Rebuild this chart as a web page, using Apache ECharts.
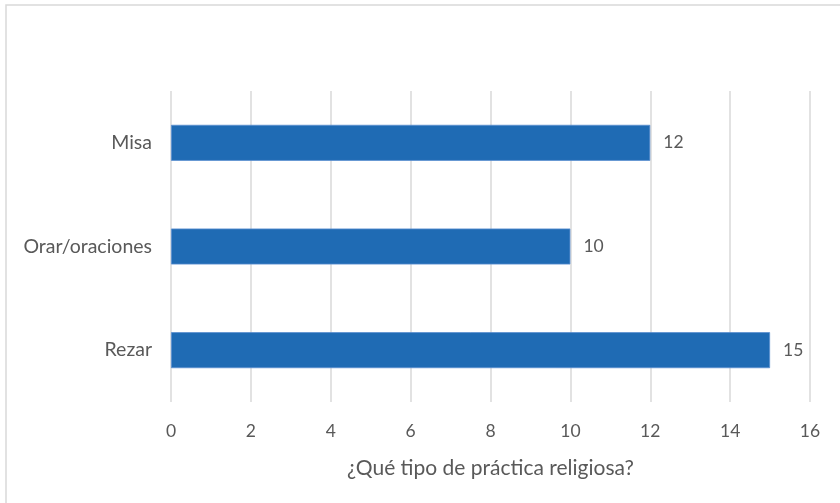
<!DOCTYPE html>
<html>
<head>
<meta charset="utf-8">
<script src="https://cdn.jsdelivr.net/npm/echarts@6/dist/echarts.min.js"></script>
<style>
  html, body { margin: 0; padding: 0; background: #fff; }
  #chart { width: 840px; height: 503px; }
</style>
</head>
<body>
<div id="chart"></div>
<script>
// Practice types (bottom to top on the category axis)
const categories = ['Rezar', 'Orar/oraciones', 'Misa'];
const counts = [15, 10, 12];
const xTicks = { min: 0, max: 16, interval: 2 };
const axisTitle = '¿Qué tipo de práctica religiosa?';

const textColor = '#595959';
const fontFamily = 'Lato, "Open Sans", sans-serif';

const chart = echarts.init(document.getElementById('chart'), null, { renderer: 'canvas' });
chart.setOption({
  backgroundColor: '#ffffff',
  animation: false,
  graphic: [{
    type: 'rect',
    shape: { x: 6, y: 5, width: 850, height: 510 },
    style: { fill: 'none', stroke: '#d9d9d9', lineWidth: 1.5 },
    silent: true
  }],
  grid: { left: 171, right: 30, top: 91, bottom: 101, containLabel: false },
  xAxis: {
    type: 'value',
    min: xTicks.min,
    max: xTicks.max,
    interval: xTicks.interval,
    axisLine: { show: false },
    axisTick: { show: false },
    splitLine: { show: true, lineStyle: { color: '#d9d9d9', width: 1.5 } },
    axisLabel: { color: textColor, fontSize: 17.5, fontFamily: fontFamily, margin: 20 },
    name: axisTitle,
    nameLocation: 'middle',
    nameGap: 56,
    nameTextStyle: { color: textColor, fontSize: 21, fontFamily: fontFamily }
  },
  yAxis: {
    type: 'category',
    data: categories,
    axisLine: { show: false },
    axisTick: { show: false },
    axisLabel: { color: textColor, fontSize: 19.5, fontFamily: fontFamily, margin: 19 }
  },
  series: [{
    type: 'bar',
    data: counts,
    barWidth: 36,
    itemStyle: { color: '#1f6bb4', borderColor: '#5b8fd0', borderWidth: 0.8 },
    label: {
      show: true,
      position: 'right',
      distance: 13,
      color: textColor,
      fontSize: 17.5,
      fontFamily: fontFamily
    }
  }]
});
</script>
</body>
</html>
